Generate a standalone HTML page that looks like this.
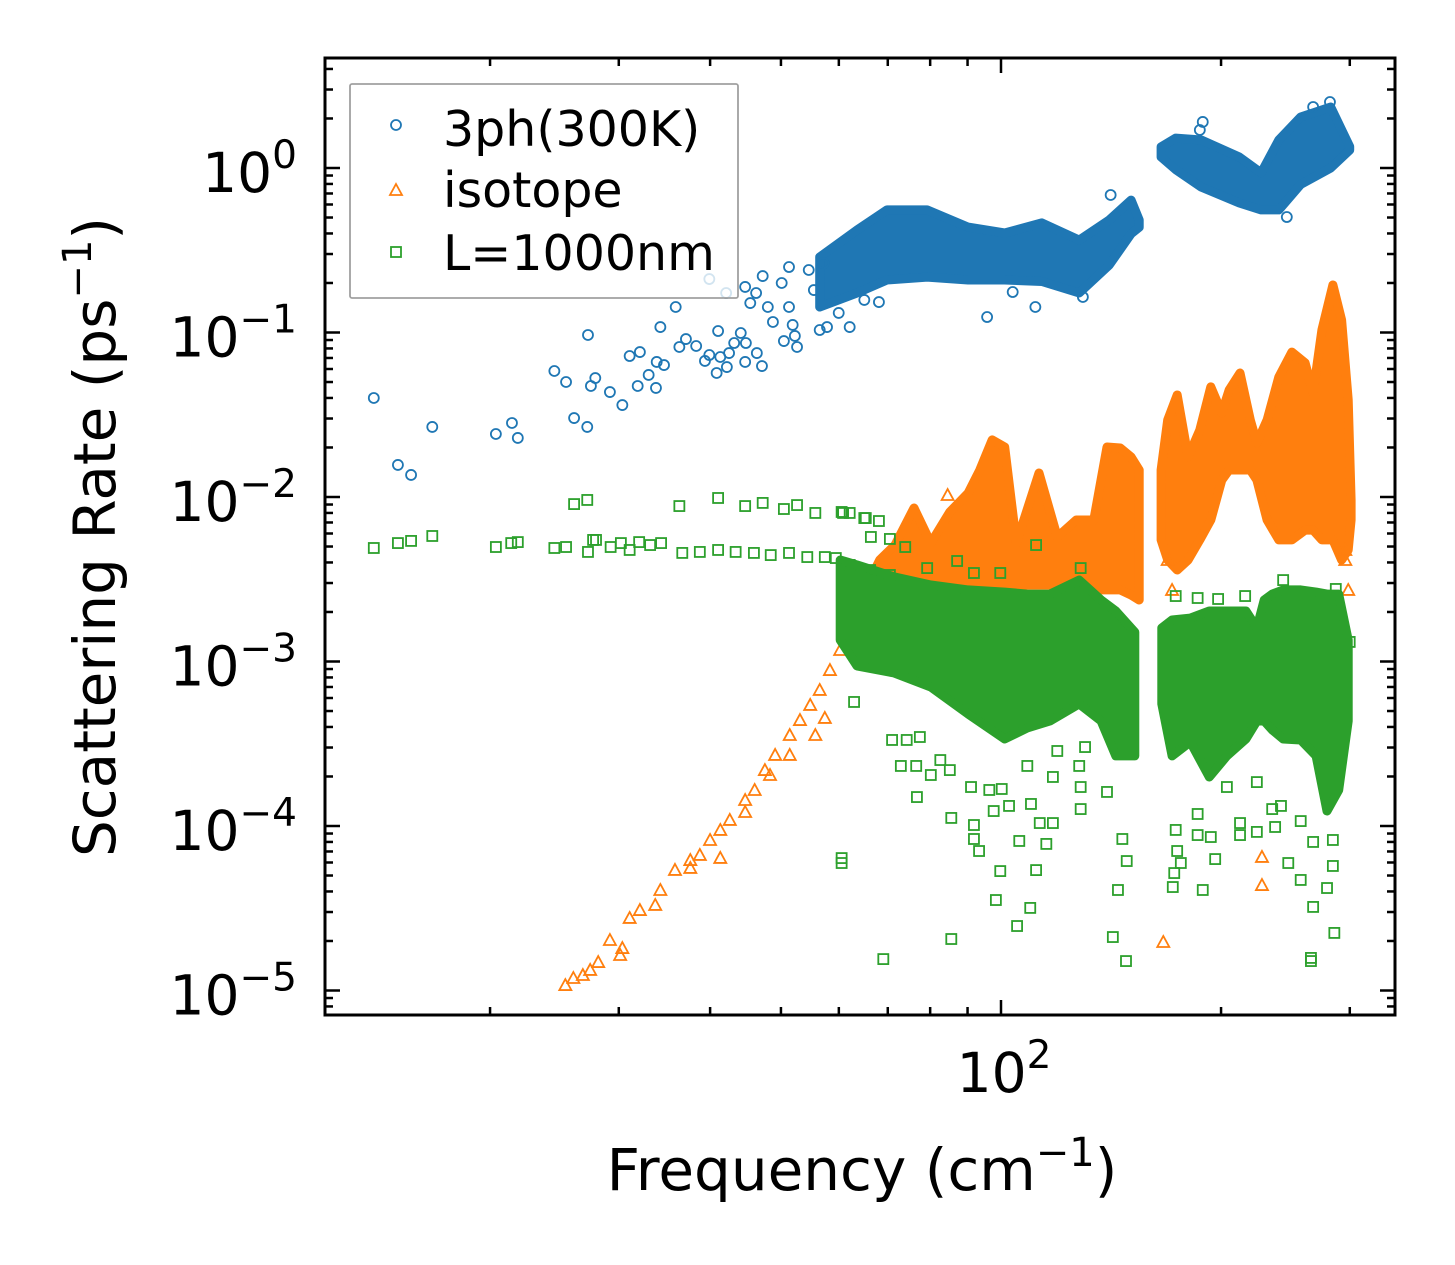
<!DOCTYPE html>
<html><head><meta charset="utf-8"><title>Scattering Rate vs Frequency</title>
<style>
html,body{margin:0;padding:0;background:#fff;}
svg{display:block;font-family:"DejaVu Sans","Liberation Sans",sans-serif;}
</style></head>
<body>
<svg id="chart" width="1455" height="1265" viewBox="0 0 1455 1265" xmlns="http://www.w3.org/2000/svg">
<rect x="0" y="0" width="1455" height="1265" fill="#fff"/>
<g id="marks"></g>
<g id="axes"></g>
<g id="legend">
  <rect x="350" y="84" width="388" height="214" fill="#fff" fill-opacity="0.8" stroke="#a0a0a0" stroke-width="1.8" rx="2"/>
  <circle cx="396" cy="125" r="5" fill="none" stroke="#1f77b4" stroke-width="1.8"/>
  <text x="443" y="146" font-size="49">3ph(300K)</text>
  <polygon points="396,184 402,195 390,195" fill="none" stroke="#ff7f0e" stroke-width="1.8"/>
  <text x="443" y="207" font-size="49">isotope</text>
  <rect x="391" y="247" width="10" height="10" fill="none" stroke="#2ca02c" stroke-width="1.8"/>
  <text x="443" y="270" font-size="49">L=1000nm</text>
</g>
<text x="862" y="1190" font-size="58" text-anchor="middle">Frequency (cm<tspan dy="-24" font-size="40">−1</tspan><tspan dy="24">)</tspan></text>
<text transform="translate(115,537) rotate(-90)" font-size="58" text-anchor="middle">Scattering Rate (ps<tspan dy="-24" font-size="40">−1</tspan><tspan dy="24">)</tspan></text>
</svg>
<script>
// ---- data (log10 of frequency in cm^-1, log10 of rate in ps^-1) ----
const blueF=[1.142,1.175,1.193,1.222,1.309,1.331,1.339,1.389,1.405,1.435,1.416,1.434,1.439,1.445,1.465,1.482,1.492,1.506,1.503,1.518,1.528,1.529,1.539,1.534,1.555,1.560,1.569,1.583,1.595,1.601,1.611,1.613,1.616,1.625,1.628,1.635,1.644,1.650,1.651,1.666,1.673,1.601,1.624,1.650,1.665,1.674,1.657,1.681,1.688,1.703,1.718,1.721,1.710,1.700,1.710,1.715,1.737,1.744,1.752,1.762,1.757,1.778,1.793,1.813,1.833,2.276,2.450,2.427,2.391,1.981,2.047,2.016,2.112,2.150,2.272];
const blueR=[-1.398,-1.805,-1.866,-1.574,-1.617,-1.550,-1.641,-1.234,-1.301,-1.015,-1.520,-1.574,-1.325,-1.277,-1.362,-1.441,-1.143,-1.119,-1.325,-1.258,-1.337,-1.179,-1.198,-0.967,-0.845,-1.088,-1.040,-1.082,-1.173,-1.137,-1.246,-0.991,-1.149,-1.210,-1.125,-1.064,-1.003,-1.179,-1.064,-1.125,-1.204,-0.675,-0.760,-0.723,-0.760,-0.657,-0.821,-0.845,-0.936,-1.052,-1.021,-1.088,-0.602,-0.699,-0.845,-0.954,-0.620,-0.742,-0.985,-0.967,-0.578,-0.881,-0.967,-0.802,-0.815,0.280,0.401,0.371,-0.298,-0.906,-0.845,-0.754,-0.784,-0.164,0.231];
const blueBandAF=[1.752,1.803,1.844,1.899,1.955,2.005,2.056,2.107,2.148,2.178,2.189];
const blueBandAHi=[-0.541,-0.377,-0.255,-0.255,-0.359,-0.395,-0.334,-0.438,-0.316,-0.195,-0.316];
const blueBandALo=[-0.845,-0.760,-0.681,-0.663,-0.681,-0.681,-0.690,-0.760,-0.590,-0.400,-0.360];
const blueBandBF=[2.219,2.239,2.274,2.326,2.356,2.380,2.410,2.451,2.477];
const blueBandBHi=[0.128,0.182,0.170,0.067,-0.030,0.170,0.310,0.371,0.130];
const blueBandBLo=[0.067,-0.010,-0.116,-0.213,-0.255,-0.255,-0.100,0.000,0.109];

const orangeF=[1.404,1.415,1.428,1.438,1.449,1.465,1.482,1.492,1.506,1.527,1.534,1.554,1.575,1.588,1.602,1.616,1.629,1.650,1.663,1.677,1.691,1.711,1.725,1.739,1.752,1.766,1.780,1.793,1.479,1.575,1.616,1.650,1.684,1.711,1.746,1.759,2.222,2.357,2.357,1.927,2.228,2.234,2.471,2.475,2.471];
const orangeR=[-4.967,-4.924,-4.906,-4.875,-4.827,-4.693,-4.742,-4.559,-4.511,-4.480,-4.389,-4.267,-4.207,-4.176,-4.085,-4.024,-3.963,-3.842,-3.781,-3.660,-3.568,-3.447,-3.356,-3.264,-3.173,-3.052,-2.930,-2.778,-4.784,-4.255,-4.194,-3.915,-3.690,-3.568,-3.447,-3.343,-4.705,-4.188,-4.359,-1.988,-2.383,-2.565,-2.383,-2.565,-2.322];
const orangeBandAF=[1.807,1.834,1.855,1.881,1.904,1.930,1.955,1.971,1.988,2.005,2.021,2.052,2.077,2.103,2.127,2.145,2.163,2.178,2.189];
const orangeBandAHi=[-2.626,-2.383,-2.292,-2.067,-2.280,-2.091,-1.976,-1.836,-1.653,-1.696,-2.280,-1.854,-2.243,-2.140,-2.140,-1.696,-1.702,-1.757,-1.836];
const orangeBandALo=[-2.869,-2.687,-2.565,-2.565,-2.565,-2.565,-2.535,-2.535,-2.535,-2.535,-2.535,-2.535,-2.535,-2.565,-2.565,-2.565,-2.565,-2.596,-2.626];
const orangeBandBF=[2.219,2.228,2.241,2.256,2.272,2.287,2.302,2.312,2.327,2.341,2.350,2.364,2.380,2.398,2.416,2.427,2.439,2.454,2.466,2.475,2.479];
const orangeBandBHi=[-1.836,-1.532,-1.380,-1.757,-1.593,-1.331,-1.489,-1.350,-1.246,-1.532,-1.672,-1.532,-1.271,-1.119,-1.185,-1.368,-0.985,-0.711,-0.924,-1.410,-2.018];
const orangeBandBLo=[-2.261,-2.383,-2.444,-2.383,-2.261,-2.140,-1.897,-1.836,-1.836,-1.836,-1.897,-2.140,-2.261,-2.261,-2.201,-2.201,-2.261,-2.261,-2.383,-2.322,-2.140];

const greenF=[1.142,1.175,1.193,1.222,1.309,1.330,1.339,1.389,1.405,1.434,1.416,1.435,1.442,1.446,1.466,1.480,1.492,1.505,1.520,1.535,1.560,1.613,1.650,1.674,1.703,1.721,1.746,1.784,1.793,1.813,1.822,1.564,1.588,1.613,1.637,1.662,1.685,1.710,1.735,1.759,1.774,1.793,1.821,1.848,1.782,1.815,1.833,1.848,1.869,2.048,1.899,1.963,1.999,2.109,1.940,2.239,2.269,2.297,2.334,2.386,2.458,2.477,
1.799,1.851,1.871,1.889,1.863,1.884,1.885,1.917,1.930,1.904,1.932,1.839,1.782,1.782,1.932,1.959,1.963,1.963,1.970,1.984,1.990,1.999,2.001,2.011,1.993,2.022,2.025,2.040,2.041,2.048,2.053,2.062,2.071,2.071,2.109,2.109,2.115,2.153,2.160,2.166,2.171,2.172,2.145,2.107,2.077,2.036,
2.239,2.241,2.246,2.235,2.237,2.269,2.287,2.276,2.293,2.269,2.327,2.327,2.350,2.375,2.393,2.410,2.427,2.424,2.424,2.454,2.446,2.456,2.454,2.427,2.410,2.350,2.309,2.371,2.383];
const greenR=[-2.310,-2.280,-2.267,-2.237,-2.304,-2.280,-2.274,-2.310,-2.304,-2.018,-2.043,-2.334,-2.261,-2.261,-2.304,-2.280,-2.322,-2.274,-2.292,-2.280,-2.055,-2.006,-2.055,-2.036,-2.073,-2.049,-2.097,-2.097,-2.097,-2.128,-2.243,-2.340,-2.334,-2.322,-2.334,-2.340,-2.353,-2.340,-2.365,-2.365,-2.371,-2.413,-2.444,-2.474,-2.091,-2.128,-2.146,-2.255,-2.304,-2.292,-2.432,-2.462,-2.462,-2.432,-2.389,-2.602,-2.614,-2.620,-2.602,-2.505,-2.559,-2.881,
-3.246,-3.477,-3.477,-3.459,-3.635,-3.635,-3.824,-3.599,-3.660,-3.690,-3.951,-4.809,-4.225,-4.195,-4.687,-3.763,-3.994,-4.079,-4.152,-3.781,-3.909,-4.274,-3.775,-3.878,-4.450,-4.608,-4.091,-4.498,-3.866,-4.268,-3.982,-4.109,-3.982,-3.702,-3.897,-3.763,-3.520,-4.675,-4.389,-4.079,-4.821,-4.213,-3.793,-3.635,-3.544,-3.635,
-4.024,-4.152,-4.225,-4.371,-4.286,-4.055,-4.067,-4.389,-4.201,-3.927,-3.982,-4.055,-4.036,-4.006,-4.225,-4.328,-4.492,-4.821,-4.802,-4.243,-4.377,-4.650,-4.085,-4.097,-3.970,-3.733,-3.763,-3.897,-3.878];
const greenBandAF=[1.780,1.803,1.854,1.904,1.955,2.005,2.036,2.067,2.107,2.137,2.157,2.183];
const greenBandAHi=[-2.383,-2.413,-2.486,-2.535,-2.565,-2.578,-2.590,-2.590,-2.505,-2.626,-2.693,-2.821];
const greenBandALo=[-2.869,-3.027,-3.070,-3.155,-3.319,-3.471,-3.404,-3.362,-3.258,-3.362,-3.574,-3.574];
const greenBandBF=[2.220,2.234,2.259,2.285,2.309,2.335,2.350,2.360,2.371,2.386,2.410,2.431,2.446,2.462,2.475];
const greenBandBHi=[-2.796,-2.748,-2.736,-2.693,-2.693,-2.693,-2.796,-2.626,-2.590,-2.565,-2.565,-2.578,-2.590,-2.590,-2.869];
const greenBandBLo=[-3.258,-3.574,-3.489,-3.702,-3.574,-3.471,-3.362,-3.362,-3.416,-3.471,-3.477,-3.574,-3.909,-3.781,-3.362];

const yDecades=[0,-1,-2,-3,-4,-5];
const yTickLabels=["0","−1","−2","−3","−4","−5"];
const xMinorTicks=[20,30,40,50,60,70,80,90,200,300];
const xMajorTicks=[100];
const xTickLabels=["2"];

// ---- scales ----
const L=325,R=1395,T=58,B=1015;
function sx(lf){return 1001+731*(lf-2);}
function sy(lr){return 168-164.5*lr;}
const NS="http://www.w3.org/2000/svg";
const marks=document.getElementById('marks');
const axes=document.getElementById('axes');
function mk(tag,attrs,parent){const e=document.createElementNS(NS,tag);for(const k in attrs)e.setAttribute(k,attrs[k]);parent.appendChild(e);return e;}

const clip=mk('clipPath',{id:'pc'},marks);
mk('rect',{x:L,y:T,width:R-L,height:B-T},clip);
marks.setAttribute('clip-path','url(#pc)');

function band(F,Hi,Lo,color,name){
  const pts=F.map((f,i)=>sx(f).toFixed(1)+','+sy(Hi[i]).toFixed(1));
  for(let i=F.length-1;i>=0;i--)pts.push(sx(F[i]).toFixed(1)+','+sy(Lo[i]).toFixed(1));
  const p=mk('polygon',{points:pts.join(' '),fill:color,stroke:color,'stroke-width':9,'stroke-linejoin':'round'},marks);
  
  
}
function circles(F,Rr){
  F.forEach((f,i)=>{
    const c=mk('circle',{cx:sx(f),cy:sy(Rr[i]),r:5,fill:'none',stroke:'#1f77b4','stroke-width':1.8},marks);
    
    
  });
}
function triangles(F,Rr){
  F.forEach((f,i)=>{
    const x=sx(f),y=sy(Rr[i]);
    const t=mk('polygon',{points:`${x},${y-6} ${x+6},${y+5} ${x-6},${y+5}`,fill:'none',stroke:'#ff7f0e','stroke-width':1.8},marks);
    
    
  });
}
function squares(F,Rr){
  F.forEach((f,i)=>{
    const s=mk('rect',{x:sx(f)-5,y:sy(Rr[i])-5,width:10,height:10,fill:'none',stroke:'#2ca02c','stroke-width':1.8},marks);
    
    
  });
}
band(blueBandAF,blueBandAHi,blueBandALo,'#1f77b4','band-3ph-low');
band(blueBandBF,blueBandBHi,blueBandBLo,'#1f77b4','band-3ph-high');
circles(blueF,blueR);
band(orangeBandAF,orangeBandAHi,orangeBandALo,'#ff7f0e','band-isotope-low');
band(orangeBandBF,orangeBandBHi,orangeBandBLo,'#ff7f0e','band-isotope-high');
triangles(orangeF,orangeR);
band(greenBandAF,greenBandAHi,greenBandALo,'#2ca02c','band-boundary-low');
band(greenBandBF,greenBandBHi,greenBandBLo,'#2ca02c','band-boundary-high');
squares(greenF,greenR);

// ---- axes ----
const frame=mk('rect',{x:L,y:T,width:R-L,height:B-T,fill:'none',stroke:'#000','stroke-width':3},axes);


function tick(x1,y1,x2,y2,name){const l=mk('line',{x1,y1,x2,y2,stroke:'#000','stroke-width':2.5},axes);}
yDecades.forEach((d,i)=>{
  const y=sy(d);
  tick(L,y,L+15,y,'y-major-tick');
  tick(R,y,R-15,y,'y-major-tick-right');
  const t=mk('text',{x:297,y:y+24,'font-size':55,'text-anchor':'end'},axes);
  
  
  t.appendChild(document.createTextNode('10'));
  const s=mk('tspan',{dy:-24,'font-size':39},t);
  s.textContent=yTickLabels[i];
});
for(let d=-6;d<=0;d++){for(let m=2;m<=9;m++){
  const y=sy(d+Math.log10(m));
  if(y<T+1||y>B-1)continue;
  tick(L,y,L+8,y,'y-minor-tick');
  tick(R,y,R-8,y,'y-minor-tick-right');
}}
xMinorTicks.forEach(v=>{const x=sx(Math.log10(v));tick(x,B,x,B-8,'x-minor-tick');tick(x,T,x,T+8,'x-minor-tick-top');});
xMajorTicks.forEach((v,i)=>{
  const x=sx(Math.log10(v));
  tick(x,B,x,B-15,'x-major-tick');tick(x,T,x,T+15,'x-major-tick-top');
  const t=mk('text',{x:x+3,y:1092,'font-size':55,'text-anchor':'middle'},axes);
  
  
  t.appendChild(document.createTextNode('10'));
  const s=mk('tspan',{dy:-24,'font-size':39},t);
  s.textContent=xTickLabels[i];
});
</script>
</body></html>
